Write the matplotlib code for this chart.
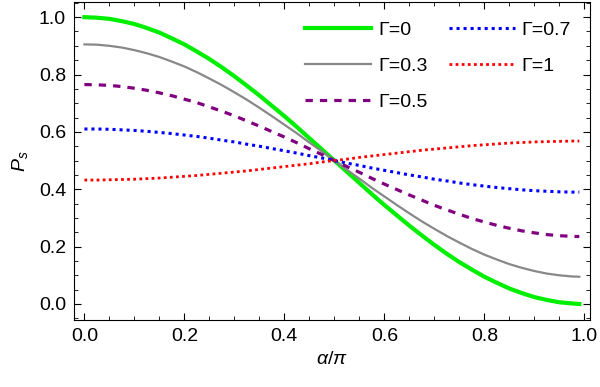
import numpy as np
import matplotlib.pyplot as plt
from matplotlib.ticker import MultipleLocator

plt.rcParams['font.family'] = ['Liberation Sans', 'DejaVu Sans']
plt.rcParams['mathtext.fontset'] = 'custom'
plt.rcParams['mathtext.it'] = 'Liberation Sans:italic'
plt.rcParams['mathtext.rm'] = 'Liberation Sans'

# alpha/pi samples
x = [0.000, 0.025, 0.050, 0.075, 0.100, 0.125, 0.150, 0.175, 0.200, 0.225, 0.250,
     0.275, 0.300, 0.325, 0.350, 0.375, 0.400, 0.425, 0.450, 0.475, 0.500,
     0.525, 0.550, 0.575, 0.600, 0.625, 0.650, 0.675, 0.700, 0.725, 0.750,
     0.775, 0.800, 0.825, 0.850, 0.875, 0.900, 0.925, 0.950, 0.975, 0.990]

ps_g0 = [1.000, 0.998, 0.994, 0.986, 0.976, 0.962, 0.946, 0.926, 0.905, 0.880, 0.854,
         0.825, 0.794, 0.761, 0.727, 0.691, 0.655, 0.617, 0.578, 0.539, 0.500,
         0.461, 0.422, 0.383, 0.345, 0.309, 0.273, 0.239, 0.206, 0.175, 0.146,
         0.120, 0.095, 0.074, 0.054, 0.038, 0.024, 0.014, 0.006, 0.002, 0.000]
ps_g03 = [0.905, 0.904, 0.900, 0.894, 0.885, 0.874, 0.861, 0.845, 0.828, 0.808, 0.786,
          0.763, 0.738, 0.712, 0.684, 0.655, 0.625, 0.595, 0.563, 0.532, 0.500,
          0.468, 0.437, 0.405, 0.375, 0.345, 0.316, 0.288, 0.262, 0.237, 0.214,
          0.192, 0.172, 0.155, 0.139, 0.126, 0.115, 0.106, 0.100, 0.096, 0.095]
ps_g05 = [0.765, 0.764, 0.762, 0.758, 0.752, 0.745, 0.736, 0.726, 0.714, 0.702, 0.687,
          0.672, 0.656, 0.638, 0.620, 0.601, 0.582, 0.562, 0.541, 0.521, 0.500,
          0.479, 0.459, 0.438, 0.418, 0.399, 0.380, 0.362, 0.344, 0.328, 0.313,
          0.298, 0.286, 0.274, 0.264, 0.255, 0.248, 0.242, 0.238, 0.236, 0.235]
ps_g07 = [0.610, 0.610, 0.609, 0.607, 0.605, 0.602, 0.598, 0.594, 0.589, 0.584, 0.578,
          0.571, 0.565, 0.557, 0.550, 0.542, 0.534, 0.526, 0.517, 0.509, 0.500,
          0.491, 0.483, 0.474, 0.466, 0.458, 0.450, 0.443, 0.435, 0.429, 0.422,
          0.416, 0.411, 0.406, 0.402, 0.398, 0.395, 0.393, 0.391, 0.390, 0.390]
ps_g1 = [0.432, 0.432, 0.433, 0.434, 0.435, 0.437, 0.439, 0.442, 0.445, 0.448, 0.452,
         0.456, 0.460, 0.464, 0.469, 0.474, 0.479, 0.484, 0.489, 0.495, 0.500,
         0.505, 0.511, 0.516, 0.521, 0.526, 0.531, 0.536, 0.540, 0.544, 0.548,
         0.552, 0.555, 0.558, 0.561, 0.563, 0.565, 0.566, 0.567, 0.568, 0.568]

fig = plt.figure(figsize=(6, 3.87), dpi=100)
ax = fig.add_axes([0.124, 0.173, 0.859, 0.822])

ax.plot(x, ps_g0, color='#00ee00', lw=3.0, label='Γ=0')
ax.plot(x, ps_g03, color='#888888', lw=1.6, label='Γ=0.3')
ax.plot(x, ps_g05, color='#800080', lw=2.3, dashes=(2.3, 2.2), label='Γ=0.5')
ax.plot(x, ps_g07, color='#0000ff', lw=2.2, dashes=(1.0, 1.3), label='Γ=0.7')
ax.plot(x, ps_g1, color='#ff0000', lw=2.0, dashes=(1.0, 1.2), label='Γ=1')

ax.set_xlim(-0.02, 1.011)
ax.set_ylim(-0.056, 1.053)
ax.xaxis.set_major_locator(MultipleLocator(0.2))
ax.xaxis.set_minor_locator(MultipleLocator(0.05))
ax.yaxis.set_major_locator(MultipleLocator(0.2))
ax.yaxis.set_minor_locator(MultipleLocator(0.05))
ax.xaxis.set_major_formatter(lambda v, p: f'{v:.1f}')
ax.yaxis.set_major_formatter(lambda v, p: f'{v:.1f}')
ax.tick_params(which='both', direction='in', top=True, right=True, labelsize=14, pad=6)
ax.tick_params(which='major', length=5)
ax.tick_params(which='minor', length=3)

ax.set_xlabel(r'$\alpha/\pi$', fontsize=14, labelpad=4)
ax.set_ylabel(r'$P_s$', fontsize=14, labelpad=6)

ax.legend(ncol=2, frameon=False, fontsize=14, handlelength=3.4, handletextpad=0.35,
          labelspacing=0.93, columnspacing=1.1, loc='upper left',
          bbox_to_anchor=(0.425, 0.975), borderaxespad=0.2)

fig.savefig('out.png')
